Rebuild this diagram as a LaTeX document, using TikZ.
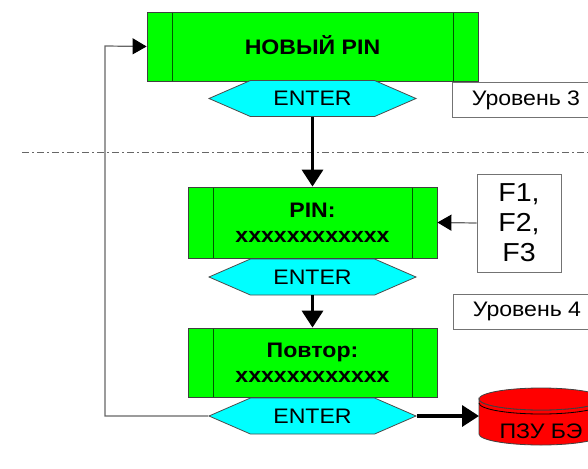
\documentclass[tikz,border=0pt]{standalone}
\usepackage{fontspec}
\setmainfont[FakeStretch=1.1]{Liberation Sans}
\usetikzlibrary{arrows.meta}
\usetikzlibrary{calc,shapes.symbols}
\definecolor{mygreen}{RGB}{0,255,0}
\definecolor{mycyan}{RGB}{0,255,255}
\definecolor{myred}{RGB}{255,0,0}
\colorlet{myline}{black!75}

\begin{document}
\begin{tikzpicture}[x=1pt,y=-1pt,
    thinarrow/.style={-{Triangle[length=14,width=16,color=black]},line width=1.2,black!60},
    boldarrow/.style={-{Triangle[length=17,width=21]},line width=3.5,black},
    menubox/.style={draw=myline,line width=0.8,fill=mygreen,align=center,inner sep=0,
        font=\fontsize{21}{25}\selectfont\bfseries,
        path picture={
            \draw[green!35!black,line width=0.7]
                ($(path picture bounding box.north west)+(#1,0)$) -- ($(path picture bounding box.south west)+(#1,0)$)
                ($(path picture bounding box.north east)+(-#1,0)$) -- ($(path picture bounding box.south east)+(-#1,0)$);}},
    keybox/.style={signal,signal from=nowhere,signal to=west and east,signal pointer angle=47,
        draw=black!70,line width=0.8,fill=mycyan,inner sep=0,minimum width=207,minimum height=36,
        font=\fontsize{21}{24}\selectfont},
    notebox/.style={draw=black!55,line width=1,fill=white,align=center,inner sep=0,
        font=\fontsize{21}{24}\selectfont},
    romedge/.style={draw=black!75,line width=0.8,fill=myred}]
    \clip (0,0) rectangle (588,468);

    \draw[black!60,line width=0.9,dash pattern=on 7 off 3 on 2 off 3] (22,152) -- (588,152);

    \node[menubox=25,minimum width=331,minimum height=69,text depth=4pt] (newpin) at (312.5,46.5) {НОВЫЙ PIN};
    \node[keybox] (enter1) at (312.5,98.5) {ENTER};
    \node[menubox=25,minimum width=249,minimum height=71] (pin) at (312.5,222.5) {PIN:\\xxxxxxxxxxxx};
    \node[keybox] (enter2) at (312.5,277) {ENTER};
    \node[menubox=25,minimum width=249,minimum height=69] (repeat) at (312.5,362.5) {Повтор:\\xxxxxxxxxxxx};
    \node[keybox] (enter3) at (312.5,416) {ENTER};

    \node[notebox,minimum width=148,minimum height=34] (level3) at (526,100) {Уровень 3};
    \node[notebox,minimum width=148,minimum height=35] (level4) at (527,311.5) {Уровень 4};
    \node[notebox,minimum width=84,minimum height=98,font=\fontsize{26}{30}\selectfont] (fkeys) at (519,223) {F1,\\F2,\\F3};

    % storage drum, drawn by hand
    \path[romedge] (479,399) -- (479,434) arc[start angle=180,end angle=0,x radius=62,y radius=11]
        -- (603,399) arc[start angle=0,end angle=180,x radius=62,y radius=11] -- cycle;
    \path[romedge] (541,399) ellipse[x radius=62,y radius=11];
    \draw[black,line width=0.8] (479,403) arc[start angle=180,end angle=0,x radius=62,y radius=11];
    \node[font=\fontsize{21}{24}\selectfont] (romtext) at (541,431) {ПЗУ БЭ};
    \coordinate (romport) at (479,416);

    \draw[boldarrow] (enter1.south) -- (pin.north);
    \draw[boldarrow] (enter2.south) -- (repeat.north);
    \draw[boldarrow] (enter3.east) -- (romport);
    \draw[thinarrow] (fkeys.west) -- (pin.east);
    \draw[thinarrow] (enter3.west) -| (105,46) -- (newpin.west);
\end{tikzpicture}
\end{document}
